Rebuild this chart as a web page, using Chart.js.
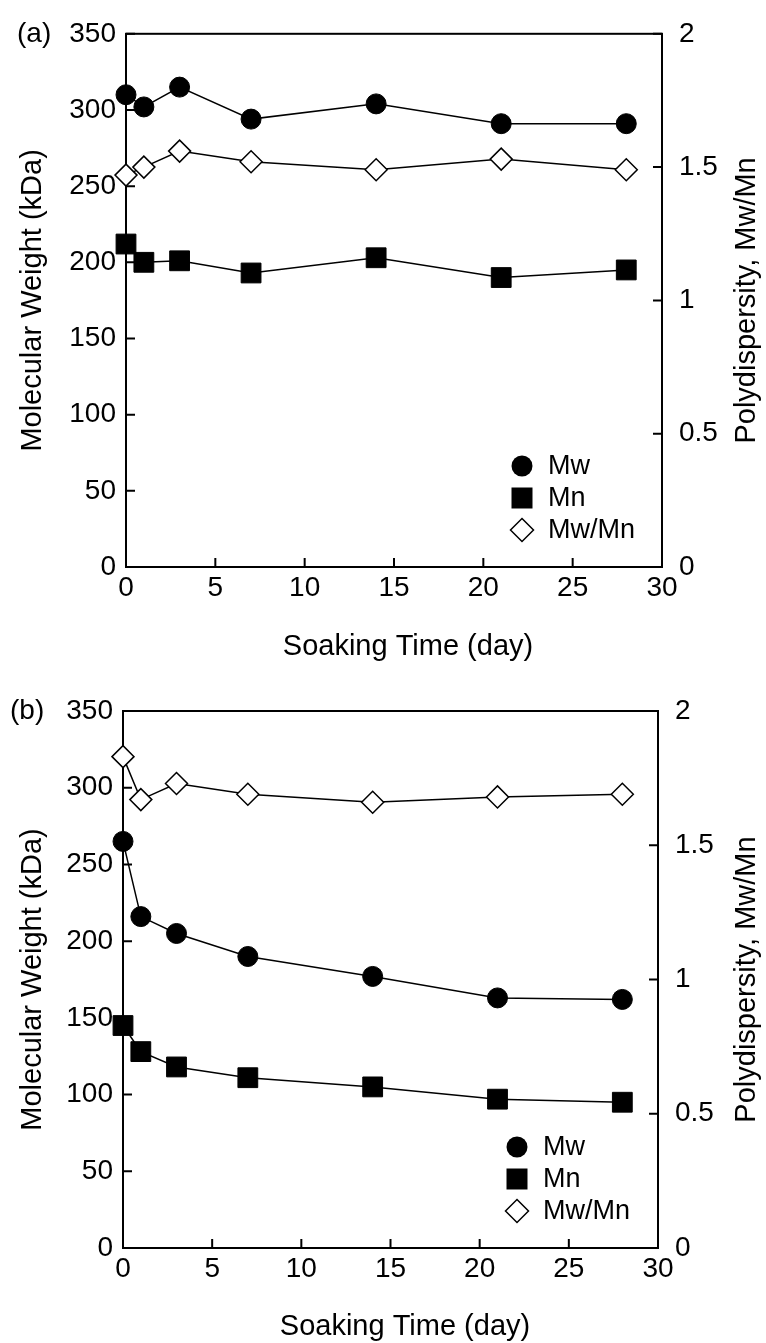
<!DOCTYPE html>
<html>
<head>
<meta charset="utf-8">
<script src="https://cdn.jsdelivr.net/npm/chart.js@4.4.1/dist/chart.umd.min.js"></script>
<style>
  html, body { margin: 0; padding: 0; background: #fff; }
  .panel { position: absolute; left: 0; width: 766px; }
</style>
</head>
<body>
<div class="panel" style="top:0;height:672px"><canvas id="chartA" width="766" height="672"></canvas></div>
<div class="panel" style="top:672px;height:671px"><canvas id="chartB" width="766" height="671"></canvas></div>
<script>
// soaking time (day)
const days = [0, 1, 3, 7, 14, 21, 28];

// panel (a)
const mwA = [310, 302, 315, 294, 304, 291, 291];
const mnA = [212, 200, 201, 193, 203, 190, 195];
const pdA = [1.47, 1.50, 1.56, 1.52, 1.49, 1.53, 1.49];

// panel (b)
const mwB = [265, 216, 205, 190, 177, 163, 162];
const mnB = [145, 128, 118, 111, 105, 97, 95];
const pdB = [1.83, 1.67, 1.73, 1.69, 1.66, 1.68, 1.69];

const weightTicks = [0, 50, 100, 150, 200, 250, 300, 350];
const polyTicks = [0, 0.5, 1, 1.5, 2];
const dayTicks = [0, 5, 10, 15, 20, 25, 30];
const seriesNames = ['Mw', 'Mn', 'Mw/Mn'];

const FONT = "'Liberation Sans', Arial, Helvetica, sans-serif";
Chart.defaults.font.family = FONT;
Chart.defaults.color = '#000';

function drawMarker(ctx, style, x, y) {
    ctx.beginPath();
    if (style === 'circle') {
        ctx.arc(x, y, 10.5, 0, Math.PI * 2);
        ctx.fillStyle = '#000';
        ctx.fill();
    } else if (style === 'rect') {
        ctx.rect(x - 10.5, y - 10.5, 21, 21);
        ctx.fillStyle = '#000';
        ctx.fill();
    } else {
        ctx.moveTo(x, y - 11.5);
        ctx.lineTo(x + 11.5, y);
        ctx.lineTo(x, y + 11.5);
        ctx.lineTo(x - 11.5, y);
        ctx.closePath();
        ctx.fillStyle = '#fff';
        ctx.fill();
        ctx.lineWidth = 1.5;
        ctx.strokeStyle = '#000';
        ctx.stroke();
    }
}

function framePlugin(panel) {
    return {
        id: 'frame',
        beforeDatasetsDraw(chart) {
            const { ctx, chartArea: a, scales } = chart;
            ctx.save();
            ctx.strokeStyle = '#000';
            ctx.lineWidth = 2;
            ctx.strokeRect(a.left, a.top, a.right - a.left, a.bottom - a.top);
            ctx.beginPath();
            scales.x.ticks.forEach((t) => {
                const px = scales.x.getPixelForValue(t.value);
                ctx.moveTo(px, a.bottom);
                ctx.lineTo(px, a.bottom - 9);
            });
            scales.y.ticks.forEach((t) => {
                const py = scales.y.getPixelForValue(t.value);
                ctx.moveTo(a.left, py);
                ctx.lineTo(a.left + 9, py);
            });
            scales.y1.ticks.forEach((t) => {
                const py = scales.y1.getPixelForValue(t.value);
                ctx.moveTo(a.right, py);
                ctx.lineTo(a.right - 9, py);
            });
            ctx.stroke();
            ctx.restore();
        },
        afterDraw(chart) {
            const { ctx, chartArea: a } = chart;
            ctx.save();
            ctx.fillStyle = '#000';
            ctx.textBaseline = 'middle';
            // panel label
            ctx.font = '28px ' + FONT;
            ctx.textAlign = 'left';
            ctx.fillText(panel.label, panel.labelX, a.top);
            // x axis title (sits a little right of the plot centre)
            ctx.font = '29px ' + FONT;
            ctx.textAlign = 'center';
            ctx.fillText('Soaking Time (day)', panel.xTitleX, panel.xTitleY);
            // right axis title, reading bottom to top
            ctx.save();
            ctx.translate(747, (a.top + a.bottom) / 2);
            ctx.rotate(-Math.PI / 2);
            ctx.textAlign = 'center';
            ctx.font = '29px ' + FONT;
            ctx.fillText('Polydispersity, Mw/Mn', 0, 0);
            ctx.restore();
            // legend
            const styles = ['circle', 'rect', 'rectRot'];
            const rows = [101, 69, 37];
            const lx = a.left + panel.legendX;
            ctx.font = '27px ' + FONT;
            ctx.textAlign = 'left';
            seriesNames.forEach((name, i) => {
                const ly = a.bottom - rows[i];
                drawMarker(ctx, styles[i], lx, ly);
                ctx.fillStyle = '#000';
                ctx.fillText(name, lx + 26, ly + 1);
            });
            ctx.restore();
        },
    };
}

function buildChart(id, panel, mw, mn, pd) {
    const ctx = document.getElementById(id).getContext('2d');
    const H = ctx.canvas.height;
    return new Chart(ctx, {
        type: 'line',
        data: {
            datasets: [
                {
                    label: seriesNames[0],
                    data: days.map((d, i) => ({ x: d, y: mw[i] })),
                    yAxisID: 'y',
                    borderColor: '#000',
                    borderWidth: 1.5,
                    pointStyle: 'circle',
                    pointRadius: 10,
                    pointBackgroundColor: '#000',
                    pointBorderColor: '#000',
                    pointBorderWidth: 1,
                    clip: false,
                },
                {
                    label: seriesNames[1],
                    data: days.map((d, i) => ({ x: d, y: mn[i] })),
                    yAxisID: 'y',
                    borderColor: '#000',
                    borderWidth: 1.5,
                    pointStyle: 'rect',
                    pointRadius: 14,
                    pointBackgroundColor: '#000',
                    pointBorderColor: '#000',
                    pointBorderWidth: 1,
                    clip: false,
                },
                {
                    label: seriesNames[2],
                    data: days.map((d, i) => ({ x: d, y: pd[i] })),
                    yAxisID: 'y1',
                    borderColor: '#000',
                    borderWidth: 1.5,
                    pointStyle: 'rectRot',
                    pointRadius: 11,
                    pointBackgroundColor: '#fff',
                    pointBorderColor: '#000',
                    pointBorderWidth: 1.5,
                    clip: false,
                },
            ],
        },
        options: {
            responsive: false,
            animation: false,
            devicePixelRatio: 1,
            layout: { padding: { top: panel.top, left: 0, right: 0, bottom: 0 } },
            plugins: {
                legend: { display: false },
                tooltip: { enabled: false },
            },
            scales: {
                x: {
                    type: 'linear',
                    min: 0,
                    max: 30,
                    afterBuildTicks: (s) => { s.ticks = dayTicks.map((v) => ({ value: v })); },
                    afterFit: (s) => { s.height = H - panel.bottom; },
                    grid: { display: false, drawTicks: false },
                    border: { display: false },
                    ticks: { font: { size: 28 }, padding: panel.xPad, maxRotation: 0, callback: (v) => String(v) },
                    title: { display: false },
                },
                y: {
                    position: 'left',
                    min: 0,
                    max: 350,
                    afterBuildTicks: (s) => { s.ticks = weightTicks.map((v) => ({ value: v })); },
                    afterFit: (s) => { s.width = panel.left; },
                    grid: { display: false, drawTicks: false },
                    border: { display: false },
                    ticks: { font: { size: 28 }, padding: 10, callback: (v) => String(v) },
                    title: {
                        display: true,
                        text: 'Molecular Weight (kDa)',
                        font: { size: 29 },
                        padding: { top: 16, bottom: 0 },
                    },
                },
                y1: {
                    position: 'right',
                    min: 0,
                    max: 2,
                    afterBuildTicks: (s) => { s.ticks = polyTicks.map((v) => ({ value: v })); },
                    afterFit: (s) => { s.width = 766 - panel.right; },
                    grid: { display: false, drawTicks: false },
                    border: { display: false },
                    ticks: { font: { size: 28 }, padding: 17, callback: (v) => String(v) },
                },
            },
        },
        plugins: [framePlugin(panel)],
    });
}

buildChart('chartA', { label: '(a)', labelX: 17, top: 31, bottom: 567, left: 126, right: 662, legendX: 396, xPad: 4, xTitleX: 408, xTitleY: 647 }, mwA, mnA, pdA);
buildChart('chartB', { label: '(b)', labelX: 10, top: 39, bottom: 576, left: 123, right: 658, legendX: 394, xPad: 4, xTitleX: 405, xTitleY: 655 }, mwB, mnB, pdB);
</script>
</body>
</html>
